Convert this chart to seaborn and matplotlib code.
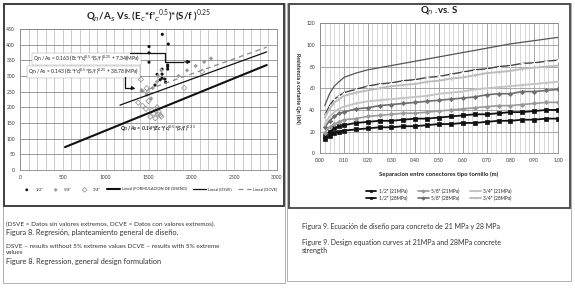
import matplotlib
matplotlib.use("Agg")
import matplotlib.pyplot as plt
import matplotlib.patches as mpatches
import seaborn as sns
import pandas as pd
import numpy as np

# ---- left chart data ----
half_x = [1661, 1731, 1506, 1506, 1506, 1724, 1724, 1724, 1658, 1658, 1658, 1635, 1576, 1690, 1600, 1700]
half_y = [433, 402, 394, 374, 344, 335, 330, 322, 322, 306, 293, 288, 271, 290, 305, 280]
five_x = [1420, 1480, 1550, 1600, 1610, 1650, 1530, 1850, 1950, 2050, 2150, 2230]
five_y = [255, 240, 262, 282, 300, 318, 228, 300, 318, 332, 345, 356]
three_x = [1412, 1479, 2126, 1916, 1380, 1430, 1470, 1500, 1540, 1560, 1600, 1620, 1640, 1520, 1580, 1610, 1650, 1494]
three_y = [289, 261, 314, 262, 215, 205, 195, 220, 190, 180, 200, 185, 175, 170, 165, 178, 170, 246]

design_x = [525, 2880]
design_y = [73, 335]
dsve_x = [1167, 2880]
dsve_y = [207, 377]
dcve_x = [1400, 2880]
dcve_y = [248, 392]

# ---- right chart data ----
sep = [0.02, 0.04, 0.06, 0.08, 0.10, 0.15, 0.20, 0.25, 0.30, 0.35, 0.40, 0.45,
       0.50, 0.55, 0.60, 0.65, 0.70, 0.75, 0.80, 0.85, 0.90, 0.95, 1.00]
curve_a = [44, 55, 62, 66, 70, 74, 77, 79, 81, 83, 85, 87, 89, 91, 93, 95, 97, 99, 101, 102.5, 104, 105.5, 107]
curve_b = [35, 44, 50, 53, 56, 59, 62, 64, 65, 67, 68, 70, 71, 73, 75, 77, 78, 80, 81, 83, 83.5, 85, 86]
q34_28 = [33, 41, 47, 50, 53, 56, 58, 60, 62, 63, 64, 66, 67, 69, 70, 72, 74, 75, 76, 78, 79, 80, 81]
q34_21 = [27, 34, 38, 41, 43, 46, 48, 49, 50, 51, 52, 53, 55, 56, 57, 59, 60, 61, 62, 63, 64, 65, 66]
q58_28 = [24, 30, 34, 37, 38, 41, 42, 44, 45, 46, 47, 48, 49, 50, 51, 52, 54, 55, 55, 57, 57, 58, 59]
q58_21 = [19, 24, 27, 29, 31, 32, 34, 35, 36, 37, 37, 38, 39, 40, 41, 42, 43, 44, 44, 45, 46, 47, 47]
q12_28 = [16, 20, 23, 25, 26, 28, 29, 30, 30, 31, 32, 32, 33, 34, 35, 36, 36, 37, 38, 38, 39, 40, 40]
q12_21 = [13, 16, 19, 20, 21, 22, 23, 24, 24, 25, 25, 26, 27, 27, 28, 28, 29, 30, 30, 31, 31, 32, 32]

sns.set_theme(style="white")
plt.rcParams['font.family'] = ['Lato', 'DejaVu Sans']
plt.rcParams['mathtext.fontset'] = 'custom'
plt.rcParams['mathtext.rm'] = 'Lato'

fig = plt.figure(figsize=(5.75, 2.89), dpi=100)

def px_rect(x0, y0, x1, y1, **kw):
    # rectangle given in pixel coords (top-left origin)
    W, H = 575, 289
    r = mpatches.Rectangle((x0 / W, 1 - y1 / H), (x1 - x0) / W, (y1 - y0) / H,
                           transform=fig.transFigure, fill=False, **kw)
    fig.add_artist(r)

# cell borders + chart boxes
px_rect(3, 3, 285, 283, edgecolor='#b0b0b0', lw=0.7)
px_rect(287, 3, 571, 281, edgecolor='#b0b0b0', lw=0.7)
px_rect(4, 4, 284, 206, edgecolor='#333333', lw=1.3)
px_rect(289, 4, 570, 208, edgecolor='#444444', lw=1.3)

# ---------------- left chart ----------------
ax1 = fig.add_axes([20 / 575, 1 - 170 / 289, 257 / 575, 141 / 289])
ax1.set_xlim(0, 3000)
ax1.set_ylim(0, 450)
ax1.set_xticks(range(0, 3001, 500))
ax1.set_xticks(range(0, 3001, 100), minor=True)
ax1.set_yticks(range(0, 451, 50))
ax1.grid(True, which='both', axis='x', color='#b5b5b5', lw=0.5)
ax1.grid(True, which='major', axis='y', color='#8a8a8a', lw=0.6)
ax1.tick_params(labelsize=3.6, length=1.5, pad=2, colors='#333333')
ax1.tick_params(which='minor', length=0)
for s in ax1.spines.values():
    s.set_color('#888888')
    s.set_linewidth(0.6)

sns.scatterplot(x=half_x, y=half_y, ax=ax1, marker='o', s=5, color='#111111',
                edgecolor='none', label='1/2"', zorder=3)
sns.scatterplot(x=five_x, y=five_y, ax=ax1, marker='D', s=5, color='#999999',
                edgecolor='none', label='5/8"', zorder=3)
sns.scatterplot(x=three_x, y=three_y, ax=ax1, marker='D', s=7, facecolor='none',
                edgecolor='#9a9a9a', linewidth=0.6, label='3/4"', zorder=3)
sns.lineplot(x=design_x, y=design_y, ax=ax1, color='#111111', lw=1.5,
             label='Lineal (FORMULACION DE DISEÑO)', zorder=4)
sns.lineplot(x=dsve_x, y=dsve_y, ax=ax1, color='#111111', lw=0.9,
             label='Lineal (DSVE)', zorder=4)
sns.lineplot(x=dcve_x, y=dcve_y, ax=ax1, color='#8a8a8a', lw=0.9, ls=(0, (4, 3)),
             label='Lineal (DCVE)', zorder=4)

ax1.set_title(r"Q$_n$/A$_s$ Vs. (E$_c$*f'$_c$$^{0.5}$)*(S/f )$^{0.25}$",
              fontsize=7, pad=7, color='#222222', fontweight='bold')

ax1.text(152, 354, r"Qn / As = 0.163 (Ec*f'c)$^{0.5}$*(S/f )$^{0.25}$ + 7.34(MPa)",
         fontsize=3.6, color='#222222', va='center',
         bbox=dict(facecolor='white', edgecolor='#999999', lw=0.3, pad=0.6))
ax1.text(93, 314, r"Qn / As = 0.143 (Ec*f'c)$^{0.5}$*(S/f )$^{0.25}$ + 38.78 (MPa)",
         fontsize=3.6, color='#222222', va='center',
         bbox=dict(facecolor='white', edgecolor='#999999', lw=0.3, pad=0.6))
ax1.text(1167, 131, r"Qn /As = 0.14*(Ec*f'c)$^{0.5}$*(S/f )$^{0.25}$",
         fontsize=3.8, style='italic', fontweight='bold', color='#222222', va='center')

ax1.plot([1284, 1693, 1693, 1900], [373, 373, 345, 345], color='#111111', lw=0.9, zorder=5)
ax1.annotate('', xy=(2030, 345), xytext=(1890, 345),
             arrowprops=dict(arrowstyle='-|>', color='#111111', lw=0.9, mutation_scale=5), zorder=5)
ax1.plot([1226, 1226, 1300], [298, 262, 262], color='#111111', lw=0.9, zorder=5)
ax1.annotate('', xy=(1380, 258), xytext=(1290, 262),
             arrowprops=dict(arrowstyle='-|>', color='#111111', lw=0.9, mutation_scale=5), zorder=5)

ax1.legend(loc='upper center', bbox_to_anchor=(0.5, -0.1), ncol=6, fontsize=2.9,
           frameon=False, handlelength=3.2, columnspacing=1.5, handletextpad=0.5,
           markerscale=0.9)

# ---------------- right chart ----------------
ax2 = fig.add_axes([320 / 575, 1 - 153.3 / 289, 238 / 575, 130 / 289])
ax2.set_xlim(0, 1.0)
ax2.set_ylim(0, 120)
ax2.set_xticks(np.arange(0, 1.001, 0.1))
ax2.set_xticks(np.arange(0, 1.001, 0.02), minor=True)
ax2.set_xticklabels([f"{v:.2f}" for v in np.arange(0, 1.001, 0.1)])
ax2.set_yticks(range(0, 121, 20))
ax2.grid(True, which='minor', axis='x', color='#c8c8c8', lw=0.5)
ax2.grid(True, which='major', axis='x', color='#999999', lw=0.6)
ax2.grid(True, which='major', axis='y', color='#999999', lw=0.6)
ax2.tick_params(labelsize=3.6, length=1.5, pad=2, colors='#333333')
ax2.tick_params(which='minor', length=0)
for s in ax2.spines.values():
    s.set_color('#888888')
    s.set_linewidth(0.6)

sns.lineplot(x=sep, y=curve_a, ax=ax2, color='#555555', lw=0.9, zorder=3)
sns.lineplot(x=sep, y=curve_b, ax=ax2, color='#444444', lw=1.0, marker='+',
             markersize=3, markeredgewidth=0.6, zorder=3)
series = [
    (q12_21, '1/2" (21MPa)', '#111111', 's', 1.3),
    (q12_28, '1/2" (28MPa)', '#111111', 's', 1.3),
    (q58_21, '5/8" (21MPa)', '#9a9a9a', 'D', 1.2),
    (q58_28, '5/8" (28MPa)', '#6e6e6e', 'D', 1.2),
    (q34_21, '3/4" (21MPa)', '#c4c4c4', '|', 1.4),
    (q34_28, '3/4" (28MPa)', '#bdbdbd', '|', 1.4),
]
for vals, lab, col, mk, lw in series:
    sns.lineplot(x=sep, y=vals, ax=ax2, color=col, lw=lw, marker=mk, markersize=2.2,
                 markeredgewidth=0.5, markeredgecolor=col, label=lab, zorder=3)

ax2.set_title(r"Q$_n$ .vs. S", fontsize=7, pad=7, color='#222222', fontweight='bold')
ax2.set_xlabel('Separacion entre conectores tipo tornillo (m)', fontsize=4.3,
               fontweight='bold', labelpad=6, color='#222222')
ax2.set_ylabel('Resistencia a cortante Qn (kN)', fontsize=3.8, fontweight='bold',
               rotation=-90, labelpad=8, color='#222222')
ax2.legend(loc='upper center', bbox_to_anchor=(0.5, -0.24), ncol=3, fontsize=3.4,
           frameon=False, handlelength=2.2, columnspacing=2.2, handletextpad=0.6,
           labelspacing=0.3, markerscale=0.8)

# ---------------- captions ----------------
W, H = 575, 289
cap = dict(transform=fig.transFigure, color='#333333', va='center', ha='left')
fig.text(6 / W, 1 - 224 / H, "(DSVE = Datos sin valores extremos, DCVE = Datos con valores extremos).",
         fontsize=4.6, **cap)
fig.text(6 / W, 1 - 232 / H, "Figura 8. Regresión, planteamiento general de diseño.",
         fontsize=5.3, **cap)
fig.text(6 / W, 1 - 246 / H, "DSVE – results without 5% extreme values DCVE – results with 5% extreme",
         fontsize=4.6, **cap)
fig.text(6 / W, 1 - 253 / H, "values", fontsize=4.6, **cap)
fig.text(6 / W, 1 - 261 / H, "Figure 8. Regression, general design formulation",
         fontsize=5.3, **cap)

fig.text(302 / W, 1 - 227 / H, "Figura 9. Ecuación de diseño para concreto de 21 MPa y 28 MPa",
         fontsize=5.0, **cap)
fig.text(302 / W, 1 - 243 / H, "Figure 9. Design equation curves at 21MPa and 28MPa concrete",
         fontsize=5.0, **cap)
fig.text(302 / W, 1 - 250 / H, "strength", fontsize=5.0, **cap)

fig.savefig('out.png', dpi=100)
